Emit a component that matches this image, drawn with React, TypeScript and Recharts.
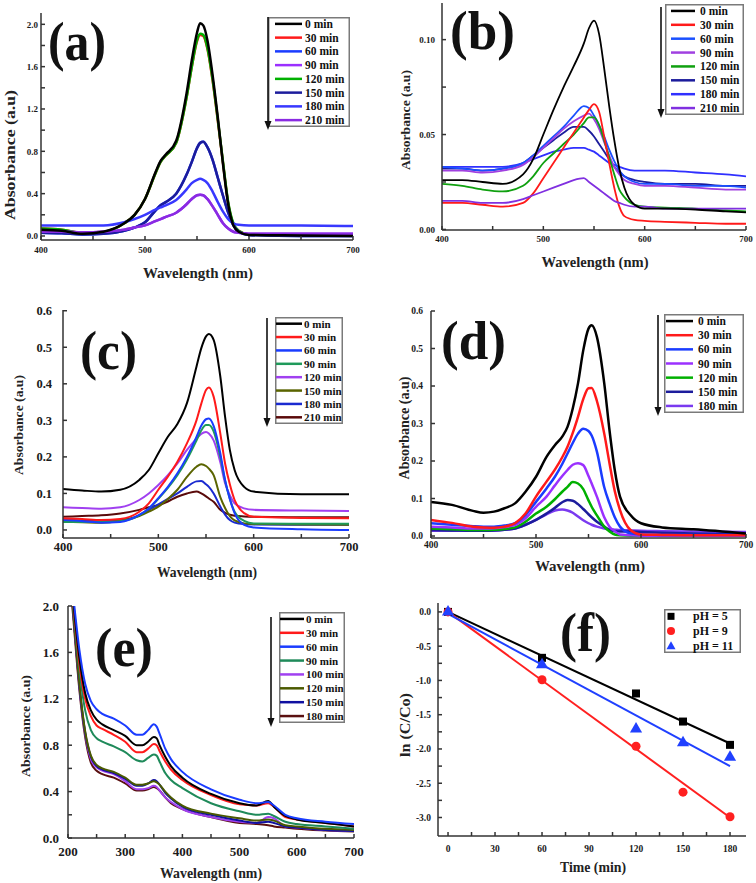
import React from 'react';
import { LineChart, Line, XAxis, YAxis, Legend, ComposedChart, Scatter, ZAxis } from 'recharts';

const SERIF = '"Liberation Serif", "Times New Roman", serif';

// ---------------- Panel (a) ----------------
const waveA = [400, 420, 440, 460, 480, 490, 500, 510, 515, 520, 530, 540, 545, 550, 553, 556, 560, 565, 570, 575, 580, 585, 590, 600, 650, 700];
const a0 = [0.06, 0.05, 0.02, 0.04, 0.12, 0.2, 0.35, 0.6, 0.71, 0.77, 0.9, 1.35, 1.66, 1.92, 2.01, 1.99, 1.85, 1.52, 1.12, 0.68, 0.3, 0.1, 0.04, 0.01, 0.005, 0.0];
const a30 = [0.07, 0.06, 0.03, 0.04, 0.12, 0.2, 0.35, 0.59, 0.7, 0.76, 0.88, 1.31, 1.6, 1.84, 1.9, 1.89, 1.77, 1.47, 1.09, 0.69, 0.31, 0.11, 0.05, 0.015, 0.01, 0.005];
const a60 = [0.03, 0.025, 0.015, 0.02, 0.05, 0.08, 0.13, 0.24, 0.29, 0.32, 0.4, 0.58, 0.7, 0.83, 0.88, 0.89, 0.84, 0.72, 0.55, 0.38, 0.22, 0.1, 0.04, 0.01, 0.0, 0.0];
const a90 = [0.04, 0.04, 0.035, 0.04, 0.06, 0.08, 0.1, 0.14, 0.16, 0.18, 0.22, 0.3, 0.35, 0.385, 0.39, 0.385, 0.35, 0.28, 0.2, 0.12, 0.07, 0.04, 0.03, 0.02, 0.02, 0.02];
const a120 = [0.07, 0.06, 0.03, 0.04, 0.12, 0.2, 0.35, 0.59, 0.7, 0.76, 0.88, 1.31, 1.6, 1.85, 1.91, 1.9, 1.78, 1.48, 1.1, 0.7, 0.32, 0.12, 0.05, 0.015, 0.01, 0.005];
const a150 = [0.03, 0.025, 0.015, 0.02, 0.05, 0.08, 0.13, 0.24, 0.29, 0.32, 0.4, 0.58, 0.7, 0.83, 0.88, 0.89, 0.84, 0.72, 0.55, 0.38, 0.22, 0.1, 0.04, 0.01, 0.0, 0.0];
const a180 = [0.1, 0.1, 0.1, 0.1, 0.13, 0.16, 0.2, 0.25, 0.27, 0.29, 0.34, 0.44, 0.5, 0.53, 0.54, 0.53, 0.5, 0.42, 0.32, 0.23, 0.16, 0.12, 0.105, 0.1, 0.1, 0.095];
const a210 = [0.04, 0.04, 0.035, 0.04, 0.06, 0.08, 0.1, 0.14, 0.16, 0.18, 0.22, 0.3, 0.35, 0.385, 0.39, 0.385, 0.35, 0.28, 0.2, 0.12, 0.07, 0.04, 0.03, 0.02, 0.02, 0.02];

// ---------------- Panel (b) ----------------
const waveB = [400, 420, 440, 460, 480, 490, 500, 510, 520, 530, 540, 545, 550, 555, 560, 565, 570, 575, 580, 590, 600, 620, 650, 680, 700];
const b0 = [0.026, 0.026, 0.025, 0.024, 0.029, 0.037, 0.05, 0.063, 0.075, 0.086, 0.098, 0.106, 0.11, 0.103, 0.085, 0.065, 0.047, 0.032, 0.022, 0.013, 0.011, 0.011, 0.0105, 0.0095, 0.009];
const b30 = [0.014, 0.014, 0.013, 0.012, 0.014, 0.019, 0.027, 0.035, 0.043, 0.051, 0.059, 0.063, 0.066, 0.062, 0.049, 0.035, 0.022, 0.012, 0.007, 0.005, 0.0045, 0.004, 0.0035, 0.003, 0.003];
const b60 = [0.033, 0.032, 0.031, 0.032, 0.035, 0.039, 0.044, 0.049, 0.054, 0.06, 0.065, 0.064, 0.06, 0.055, 0.049, 0.042, 0.036, 0.031, 0.028, 0.025, 0.024, 0.024, 0.023, 0.023, 0.022];
const b90 = [0.031, 0.031, 0.03, 0.031, 0.034, 0.038, 0.043, 0.048, 0.053, 0.057, 0.06, 0.061, 0.058, 0.053, 0.046, 0.039, 0.033, 0.029, 0.026, 0.024, 0.023, 0.023, 0.022, 0.021, 0.021];
const b120 = [0.024, 0.023, 0.021, 0.02, 0.023, 0.028, 0.035, 0.04, 0.045, 0.05, 0.056, 0.059, 0.059, 0.055, 0.047, 0.038, 0.029, 0.021, 0.017, 0.013, 0.012, 0.0115, 0.011, 0.01, 0.0095];
const b150 = [0.032, 0.032, 0.031, 0.032, 0.035, 0.039, 0.043, 0.047, 0.051, 0.054, 0.054, 0.052, 0.049, 0.045, 0.041, 0.037, 0.033, 0.03, 0.028, 0.026, 0.025, 0.024, 0.024, 0.023, 0.023];
const b180 = [0.033, 0.033, 0.033, 0.033, 0.035, 0.037, 0.039, 0.041, 0.042, 0.043, 0.043, 0.042, 0.041, 0.039, 0.037, 0.035, 0.034, 0.033, 0.032, 0.031, 0.031, 0.031, 0.03, 0.029, 0.028];
const b210 = [0.015, 0.015, 0.014, 0.014, 0.016, 0.018, 0.02, 0.022, 0.024, 0.026, 0.027, 0.025, 0.023, 0.021, 0.019, 0.017, 0.015, 0.014, 0.013, 0.012, 0.012, 0.011, 0.011, 0.011, 0.011];

// ---------------- Panel (c) ----------------
const waveC = [400, 420, 440, 460, 480, 490, 500, 510, 520, 530, 540, 545, 550, 553, 558, 565, 570, 575, 580, 590, 600, 650, 700];
const c0 = [0.112, 0.108, 0.105, 0.11, 0.137, 0.164, 0.21, 0.255, 0.29, 0.347, 0.447, 0.497, 0.53, 0.536, 0.52, 0.42, 0.31, 0.219, 0.164, 0.118, 0.105, 0.098, 0.098];
const c30 = [0.032, 0.03, 0.027, 0.03, 0.05, 0.073, 0.11, 0.146, 0.187, 0.237, 0.3, 0.345, 0.383, 0.39, 0.365, 0.264, 0.182, 0.125, 0.082, 0.046, 0.036, 0.033, 0.032];
const c60 = [0.027, 0.024, 0.02, 0.022, 0.041, 0.059, 0.087, 0.118, 0.155, 0.2, 0.255, 0.285, 0.303, 0.305, 0.285, 0.21, 0.137, 0.085, 0.046, 0.014, 0.007, 0.002, 0.0];
const c90 = [0.022, 0.022, 0.022, 0.024, 0.04, 0.058, 0.085, 0.115, 0.15, 0.193, 0.245, 0.272, 0.287, 0.287, 0.27, 0.2, 0.135, 0.085, 0.05, 0.025, 0.018, 0.017, 0.017];
const c120 = [0.062, 0.06, 0.058, 0.062, 0.082, 0.1, 0.123, 0.15, 0.182, 0.219, 0.25, 0.263, 0.268, 0.264, 0.245, 0.185, 0.128, 0.095, 0.073, 0.059, 0.055, 0.053, 0.052];
const c150 = [0.022, 0.021, 0.02, 0.025, 0.038, 0.05, 0.064, 0.085, 0.11, 0.145, 0.173, 0.18, 0.175, 0.168, 0.15, 0.09, 0.06, 0.038, 0.026, 0.018, 0.016, 0.015, 0.014];
const c180 = [0.028, 0.026, 0.024, 0.027, 0.04, 0.055, 0.07, 0.085, 0.1, 0.118, 0.133, 0.134, 0.125, 0.118, 0.1, 0.064, 0.042, 0.027, 0.02, 0.016, 0.015, 0.014, 0.014];
const c210 = [0.036, 0.038, 0.04, 0.045, 0.055, 0.062, 0.068, 0.078, 0.091, 0.1, 0.105, 0.1, 0.092, 0.086, 0.077, 0.055, 0.047, 0.042, 0.039, 0.037, 0.036, 0.035, 0.035];

// ---------------- Panel (d) ----------------
const waveD = [400, 420, 440, 450, 460, 470, 480, 490, 500, 510, 518, 525, 530, 535, 540, 545, 550, 553, 558, 565, 570, 575, 580, 590, 600, 620, 650, 700];
const d0 = [0.091, 0.083, 0.067, 0.062, 0.065, 0.074, 0.087, 0.118, 0.158, 0.211, 0.242, 0.265, 0.291, 0.34, 0.407, 0.495, 0.553, 0.562, 0.531, 0.407, 0.282, 0.176, 0.105, 0.056, 0.034, 0.023, 0.018, 0.007];
const d30 = [0.043, 0.035, 0.025, 0.023, 0.022, 0.025, 0.034, 0.06, 0.105, 0.145, 0.177, 0.21, 0.238, 0.275, 0.318, 0.365, 0.394, 0.395, 0.36, 0.273, 0.194, 0.12, 0.069, 0.016, 0.004, 0.003, 0.002, 0.002];
const d60 = [0.034, 0.03, 0.026, 0.025, 0.025, 0.028, 0.034, 0.056, 0.091, 0.127, 0.158, 0.192, 0.22, 0.248, 0.273, 0.286, 0.28, 0.268, 0.225, 0.13, 0.087, 0.05, 0.025, 0.007, 0.004, 0.003, 0.003, 0.003];
const d90 = [0.025, 0.023, 0.02, 0.02, 0.021, 0.024, 0.029, 0.047, 0.078, 0.105, 0.135, 0.16, 0.176, 0.19, 0.194, 0.189, 0.16, 0.14, 0.105, 0.05, 0.025, 0.013, 0.004, 0.002, 0.001, 0.001, 0.001, 0.001];
const d120 = [0.02, 0.018, 0.016, 0.016, 0.017, 0.019, 0.023, 0.038, 0.06, 0.078, 0.098, 0.118, 0.131, 0.144, 0.14, 0.125, 0.095, 0.078, 0.055, 0.025, 0.012, 0.004, 0.002, 0.001, 0.001, 0.001, 0.001, 0.001];
const d150 = [0.016, 0.015, 0.014, 0.014, 0.015, 0.017, 0.02, 0.03, 0.043, 0.06, 0.075, 0.09, 0.096, 0.094, 0.085, 0.072, 0.058, 0.05, 0.038, 0.025, 0.016, 0.013, 0.012, 0.012, 0.011, 0.009, 0.007, 0.005];
const d180 = [0.014, 0.014, 0.014, 0.014, 0.015, 0.017, 0.02, 0.03, 0.043, 0.058, 0.068, 0.071, 0.068, 0.062, 0.052, 0.042, 0.034, 0.03, 0.025, 0.02, 0.018, 0.017, 0.016, 0.015, 0.014, 0.013, 0.012, 0.011];

// ---------------- Panel (e) ----------------
const waveE = [200, 210, 220, 230, 240, 250, 260, 280, 300, 320, 330, 340, 350, 355, 360, 370, 380, 400, 450, 500, 530, 550, 560, 580, 600, 650, 700];
const e0 = [2.5, 2.0, 1.55, 1.25, 1.1, 1.02, 0.98, 0.93, 0.88, 0.8, 0.8, 0.83, 0.87, 0.86, 0.8, 0.7, 0.62, 0.52, 0.38, 0.3, 0.28, 0.32, 0.27, 0.19, 0.16, 0.13, 0.1];
const e30 = [2.5, 1.98, 1.5, 1.2, 1.05, 0.97, 0.94, 0.89, 0.83, 0.74, 0.74, 0.77, 0.81, 0.8, 0.75, 0.66, 0.59, 0.5, 0.37, 0.29, 0.28, 0.3, 0.27, 0.18, 0.16, 0.13, 0.1];
const e60 = [2.55, 2.05, 1.62, 1.33, 1.18, 1.11, 1.07, 1.03, 0.97, 0.89, 0.89, 0.93, 0.98, 0.96, 0.9, 0.77, 0.68, 0.57, 0.42, 0.33, 0.3, 0.31, 0.28, 0.2, 0.17, 0.14, 0.12];
const e90 = [2.5, 1.95, 1.45, 1.1, 0.93, 0.86, 0.83, 0.79, 0.74, 0.67, 0.66, 0.69, 0.72, 0.71, 0.66, 0.56, 0.5, 0.43, 0.3, 0.23, 0.2, 0.21, 0.19, 0.14, 0.12, 0.1, 0.08];
const e100 = [2.5, 1.9, 1.3, 0.9, 0.68, 0.61, 0.58, 0.55, 0.49, 0.42, 0.42, 0.43, 0.45, 0.44, 0.41, 0.35, 0.31, 0.25, 0.18, 0.14, 0.13, 0.18, 0.17, 0.1, 0.09, 0.07, 0.06];
const e120 = [2.5, 1.9, 1.32, 0.92, 0.71, 0.63, 0.6, 0.57, 0.52, 0.46, 0.46, 0.47, 0.49, 0.48, 0.46, 0.4, 0.35, 0.28, 0.21, 0.17, 0.15, 0.16, 0.15, 0.11, 0.1, 0.08, 0.07];
const e150 = [2.5, 1.9, 1.31, 0.91, 0.7, 0.62, 0.59, 0.56, 0.51, 0.45, 0.45, 0.47, 0.5, 0.49, 0.46, 0.39, 0.34, 0.27, 0.2, 0.15, 0.13, 0.14, 0.13, 0.1, 0.09, 0.07, 0.06];
const e180 = [2.45, 1.85, 1.27, 0.87, 0.65, 0.58, 0.55, 0.52, 0.47, 0.41, 0.41, 0.42, 0.44, 0.43, 0.41, 0.35, 0.3, 0.25, 0.18, 0.13, 0.12, 0.11, 0.1, 0.09, 0.08, 0.065, 0.055];

// ---------------- Panel (f) ----------------
const fTime = [0, 60, 120, 150, 180];
const fPH5 = [0, -0.67, -1.19, -1.6, -1.94];
const fPH9 = [0, -0.99, -1.96, -2.63, -2.99];
const fPH11 = [0, -0.77, -1.71, -1.91, -2.12];
const fitTime = [0, 180];
const fit5 = [0, -1.92];
const fit9 = [0, -3.0];
const fit11 = [-0.03, -2.25];

const labels8 = ['0 min', '30 min', '60 min', '90 min', '120 min', '150 min', '180 min', '210 min'];
const labelsD = ['0 min', '30 min', '60 min', '90 min', '120 min', '150 min', '180 min'];
const labelsE = ['0 min', '30 min', '60 min', '90 min', '100 min', '120 min', '150 min', '180 min'];

type S = { name: string; color: string; values: number[] };
type LegendSpec = { x: number; y: number; w: number; h: number; font: number; lineX: number; lineW: number; textX: number };

const axisStyle = { stroke: '#333', strokeWidth: 1.5 };

function LegendBox({ spec, items }: { spec: LegendSpec; items: { name: string; color: string }[] }) {
  const rh = spec.h / items.length;
  return (
    <svg width={spec.w} height={spec.h} style={{ display: 'block' }}>
      <rect x={0.75} y={0.75} width={spec.w - 1.5} height={spec.h - 1.5} fill="#fff" stroke="#7a7a7a" strokeWidth={1.5} />
      {items.map((it, i) => {
        const cy = rh * (i + 0.5);
        return (
          <g key={i}>
            <line x1={spec.lineX - spec.x} x2={spec.lineX - spec.x + spec.lineW} y1={cy} y2={cy} stroke={it.color} strokeWidth={2.5} />
            <text x={spec.textX - spec.x} y={cy} dominantBaseline="central" fontFamily={SERIF} fontWeight="bold" fontSize={spec.font} fill="#111">{it.name}</text>
          </g>
        );
      })}
    </svg>
  );
}

type PanelProps = {
  px: number; py: number; pw: number; ph: number; yw: number;
  waves: number[]; series: S[]; draw: number[];
  xDomain: [number, number]; xTicks: number[]; xMajor: number[];
  yDomain: [number, number]; yTicks: number[]; yMajor: number[]; yDec: number;
  tickFont: number; xGap: number; yGap: number; strokeW: number;
  legend: LegendSpec;
};

const TOP = 6, RIGHT = 14, XH = 40;

function SpecPanel(p: PanelProps) {
  const rows = p.waves.map((w, i) => {
    const r: Record<string, number> = { w };
    p.series.forEach((s, j) => { r['s' + j] = s.values[i]; });
    return r;
  });
  const cl = p.px - p.yw, ct = p.py - TOP;
  const tickStyle = { fill: '#1a1a1a', fontSize: p.tickFont, fontFamily: SERIF, fontWeight: 700 };
  return (
    <div style={{ position: 'absolute', left: cl, top: ct }}>
      <LineChart width={p.yw + p.pw + RIGHT} height={TOP + p.ph + XH} data={rows} margin={{ top: TOP, right: RIGHT, left: 0, bottom: 0 }}>
        <XAxis dataKey="w" type="number" domain={p.xDomain} ticks={p.xTicks} interval={0} allowDataOverflow height={XH}
          tickSize={-4} tickMargin={p.xGap + 4} tick={tickStyle} axisLine={axisStyle} tickLine={axisStyle}
          tickFormatter={(v: number) => (p.xMajor.includes(v) ? String(v) : '')} />
        <XAxis xAxisId="top" orientation="top" type="number" dataKey="w" domain={p.xDomain} allowDataOverflow height={0} tick={false} tickLine={false} axisLine={axisStyle} />
        <YAxis type="number" domain={p.yDomain} ticks={p.yTicks} interval={0} allowDataOverflow width={p.yw}
          tickSize={-4} tickMargin={p.yGap + 4} tick={tickStyle} axisLine={axisStyle} tickLine={axisStyle}
          tickFormatter={(v: number) => (p.yMajor.includes(v) ? Number(v).toFixed(p.yDec) : '')} />
        <YAxis yAxisId="right" orientation="right" type="number" domain={p.yDomain} allowDataOverflow width={0} tick={false} tickLine={false} axisLine={axisStyle} />
        {p.draw.map((j) => (
          <Line key={j} dataKey={'s' + j} name={p.series[j].name} stroke={p.series[j].color} strokeWidth={p.strokeW} dot={false} type="monotone" isAnimationActive={false} />
        ))}
        <Legend layout="vertical" align="center" verticalAlign="middle"
          wrapperStyle={{ left: p.legend.x - cl, top: p.legend.y - ct, width: p.legend.w, height: p.legend.h }}
          content={() => <LegendBox spec={p.legend} items={p.series} />} />
      </LineChart>
    </div>
  );
}

function mk(names: string[], colors: string[], vals: number[][]): S[] {
  return names.map((n, i) => ({ name: n, color: colors[i], values: vals[i] }));
}

const seriesA = mk(labels8, ['#000000', '#ff1a1a', '#1a3cff', '#9b30ff', '#00b000', '#1c1c9c', '#3838ff', '#8a2be2'], [a0, a30, a60, a90, a120, a150, a180, a210]);
const seriesB = mk(labels8, ['#000000', '#ff1a1a', '#1a50ff', '#a040e0', '#10a010', '#1c1c9c', '#3030ff', '#8030e0'], [b0, b30, b60, b90, b120, b150, b180, b210]);
const seriesC = mk(labels8, ['#000000', '#ff1a1a', '#1a3cff', '#1f9a5a', '#a040f0', '#5a6400', '#1a2ad0', '#5a0a0a'], [c0, c30, c60, c90, c120, c150, c180, c210]);
const seriesD = mk(labelsD, ['#000000', '#ff1a1a', '#1a3cff', '#9b30ff', '#00b000', '#1c1c9c', '#7a3af0'], [d0, d30, d60, d90, d120, d150, d180]);
const seriesE = mk(labelsE, ['#000000', '#ff1a1a', '#1a3cff', '#1f8a5a', '#a040f0', '#4b5a00', '#1010a0', '#5a1010'], [e0, e30, e60, e90, e100, e120, e150, e180]);

function PanelF() {
  const px = 438, py = 603, pw = 308, ph = 233, yw = 60, rp = 8;
  const cl = px - yw, ct = py - TOP;
  const pts = (vals: number[]) => fTime.map((t, i) => ({ t, v: vals[i] }));
  const fit = (vals: number[]) => fitTime.map((t, i) => ({ t, v: vals[i] }));
  const tickStyle = { fill: '#1a1a1a', fontSize: 9.5, fontFamily: SERIF, fontWeight: 700 };
  const xt = [0, 15, 30, 45, 60, 75, 90, 105, 120, 135, 150, 165, 180];
  const xm = [0, 30, 60, 90, 120, 150, 180];
  const yt = [0, -0.25, -0.5, -0.75, -1, -1.25, -1.5, -1.75, -2, -2.25, -2.5, -2.75, -3];
  const ym = [0, -0.5, -1, -1.5, -2, -2.5, -3];
  const leg = { x: 664, y: 609, w: 77, h: 44 };
  const items = [
    { name: 'pH = 5', color: '#000000', shape: 'square' },
    { name: 'pH = 9', color: '#ff2020', shape: 'circle' },
    { name: 'pH = 11', color: '#2040ff', shape: 'triangle' },
  ];
  return (
    <div style={{ position: 'absolute', left: cl, top: ct }}>
      <ComposedChart width={yw + pw + rp} height={TOP + ph + XH} margin={{ top: TOP, right: rp, left: 0, bottom: 0 }}>
        <XAxis dataKey="t" type="number" domain={[-6.4, 190.2]} ticks={xt} interval={0} allowDataOverflow height={XH}
          tickSize={-4} tickMargin={13} tick={tickStyle} axisLine={axisStyle} tickLine={axisStyle}
          tickFormatter={(v: number) => (xm.includes(v) ? String(v) : '')} />
        <XAxis xAxisId="top" orientation="top" type="number" dataKey="t" domain={[-6.4, 190.2]} allowDataOverflow height={0} tick={false} tickLine={false} axisLine={axisStyle} />
        <YAxis type="number" domain={[-3.27, 0.13]} ticks={yt} interval={0} allowDataOverflow width={yw}
          tickSize={-4} tickMargin={11} tick={tickStyle} axisLine={axisStyle} tickLine={axisStyle}
          tickFormatter={(v: number) => (ym.includes(v) ? Number(v).toFixed(1) : '')} />
        <YAxis yAxisId="right" orientation="right" type="number" domain={[-3.27, 0.13]} allowDataOverflow width={0} tick={false} tickLine={false} axisLine={axisStyle} />
        <ZAxis range={[64, 64]} />
        <Line data={fit(fit5)} dataKey="v" stroke="#000000" strokeWidth={2} dot={false} type="linear" isAnimationActive={false} />
        <Line data={fit(fit9)} dataKey="v" stroke="#ff2020" strokeWidth={2} dot={false} type="linear" isAnimationActive={false} />
        <Line data={fit(fit11)} dataKey="v" stroke="#2040ff" strokeWidth={2} dot={false} type="linear" isAnimationActive={false} />
        <Scatter name="pH = 5" data={pts(fPH5)} dataKey="v" fill="#000000" shape="square" isAnimationActive={false} />
        <Scatter name="pH = 9" data={pts(fPH9)} dataKey="v" fill="#ff2020" shape="circle" isAnimationActive={false} />
        <Scatter name="pH = 11" data={pts(fPH11)} dataKey="v" fill="#2040ff" shape="triangle" isAnimationActive={false} />
        <Legend layout="vertical" align="center" verticalAlign="middle"
          wrapperStyle={{ left: leg.x - cl, top: leg.y - ct, width: leg.w, height: leg.h }}
          content={() => (
            <svg width={leg.w} height={leg.h} style={{ display: 'block' }}>
              <rect x={0.75} y={0.75} width={leg.w - 1.5} height={leg.h - 1.5} fill="#fff" stroke="#7a7a7a" strokeWidth={1.5} />
              {items.map((it, i) => {
                const cy = (leg.h / 3) * (i + 0.5);
                const mx = 671 - leg.x;
                return (
                  <g key={i}>
                    {it.shape === 'square' && <rect x={mx - 3.5} y={cy - 3.5} width={7} height={7} fill={it.color} />}
                    {it.shape === 'circle' && <circle cx={mx} cy={cy} r={4} fill={it.color} />}
                    {it.shape === 'triangle' && <polygon points={`${mx - 4.5},${cy + 3.5} ${mx + 4.5},${cy + 3.5} ${mx},${cy - 4.5}`} fill={it.color} />}
                    <text x={693 - leg.x} y={cy} dominantBaseline="central" fontFamily={SERIF} fontWeight="bold" fontSize={12} fill="#111">{it.name}</text>
                  </g>
                );
              })}
            </svg>
          )} />
      </ComposedChart>
    </div>
  );
}

const panelLabels = [
  { t: '(a)', x: 48, y: 60, len: 58 },
  { t: '(b)', x: 450, y: 49, len: 65 },
  { t: '(c)', x: 80, y: 369, len: 57 },
  { t: '(d)', x: 441, y: 359, len: 65 },
  { t: '(e)', x: 95, y: 666, len: 58 },
  { t: '(f)', x: 560, y: 651, len: 51 },
];
const yTitles = [
  { t: 'Absorbance (a.u)', x: 10, y: 155, len: 130, fs: 14 },
  { t: 'Absorbance (a.u)', x: 405, y: 120, len: 100, fs: 13.5 },
  { t: 'Absorbance (a.u)', x: 18, y: 425, len: 100, fs: 13 },
  { t: 'Absorbance (a.u)', x: 404, y: 428, len: 103, fs: 14 },
  { t: 'Absorbance (a.u)', x: 25, y: 726, len: 102, fs: 13 },
  { t: 'ln (C/Co)', x: 405, y: 725, len: 64, fs: 15 },
];
const xTitles = [
  { t: 'Wavelength (nm)', x: 198, y: 278, len: 110, fs: 15 },
  { t: 'Wavelength (nm)', x: 595, y: 267, len: 107, fs: 15 },
  { t: 'Wavelength (nm)', x: 207, y: 577, len: 100, fs: 14 },
  { t: 'Wavelength (nm)', x: 590, y: 571, len: 110, fs: 15 },
  { t: 'Wavelength (nm)', x: 211, y: 878, len: 102, fs: 14 },
  { t: 'Time (min)', x: 593, y: 872, len: 66, fs: 14 },
];
const arrows = [
  { x: 268, y1: 17, y2: 130 },
  { x: 661, y1: 7, y2: 118 },
  { x: 267, y1: 318, y2: 427 },
  { x: 658, y1: 315, y2: 416 },
  { x: 271, y1: 617, y2: 727 },
];

export default function App() {
  return (
    <div style={{ position: 'absolute', left: 0, top: 0, width: 756, height: 883, background: '#fff', overflow: 'hidden' }}>
      <SpecPanel px={41} py={13} pw={312} ph={227} yw={41} waves={waveA} series={seriesA} draw={[1, 4, 2, 5, 3, 7, 6, 0]}
        xDomain={[400, 700]} xTicks={[400, 450, 500, 550, 600, 650, 700]} xMajor={[400, 500, 600, 700]}
        yDomain={[-0.038, 2.107]} yTicks={[0, 0.2, 0.4, 0.6, 0.8, 1.0, 1.2, 1.4, 1.6, 1.8, 2.0]} yMajor={[0, 0.4, 0.8, 1.2, 1.6, 2.0]} yDec={1}
        tickFont={9} xGap={7} yGap={3} strokeW={2.5}
        legend={{ x: 268, y: 17, w: 82, h: 110, font: 11.5, lineX: 275, lineW: 27, textX: 305 }} />
      <SpecPanel px={442} py={3} pw={304} ph={227} yw={64} waves={waveB} series={seriesB} draw={[5, 6, 2, 3, 4, 1, 7, 0]}
        xDomain={[400, 700]} xTicks={[400, 450, 500, 550, 600, 650, 700]} xMajor={[400, 500, 600, 700]}
        yDomain={[-0.0003, 0.1193]} yTicks={[0, 0.025, 0.05, 0.075, 0.1]} yMajor={[0, 0.05, 0.1]} yDec={2}
        tickFont={9} xGap={6} yGap={7} strokeW={1.8}
        legend={{ x: 665, y: 4, w: 79, h: 111, font: 11.5, lineX: 671, lineW: 24, textX: 700 }} />
      <SpecPanel px={63} py={310} pw={286} ph={228} yw={63} waves={waveC} series={seriesC} draw={[7, 6, 5, 4, 3, 2, 1, 0]}
        xDomain={[400, 700]} xTicks={[400, 450, 500, 550, 600, 650, 700]} xMajor={[400, 500, 600, 700]}
        yDomain={[-0.022, 0.602]} yTicks={[0, 0.1, 0.2, 0.3, 0.4, 0.5, 0.6]} yMajor={[0, 0.1, 0.2, 0.3, 0.4, 0.5, 0.6]} yDec={1}
        tickFont={12.5} xGap={4} yGap={11} strokeW={2}
        legend={{ x: 275, y: 317, w: 68, h: 107, font: 11, lineX: 276, lineW: 26, textX: 304 }} />
      <SpecPanel px={431} py={311} pw={315} ph={227} yw={53} waves={waveD} series={seriesD} draw={[6, 5, 4, 3, 2, 1, 0]}
        xDomain={[400, 700]} xTicks={[400, 450, 500, 550, 600, 650, 700]} xMajor={[400, 500, 600, 700]}
        yDomain={[-0.0053, 0.6]} yTicks={[0, 0.1, 0.2, 0.3, 0.4, 0.5, 0.6]} yMajor={[0, 0.1, 0.2, 0.3, 0.4, 0.5, 0.6]} yDec={1}
        tickFont={9.5} xGap={3} yGap={8} strokeW={2.5}
        legend={{ x: 664, y: 314, w: 80, h: 99, font: 11.5, lineX: 666, lineW: 27, textX: 698 }} />
      <SpecPanel px={68} py={606} pw={286} ph={232} yw={68} waves={waveE} series={seriesE} draw={[7, 4, 6, 5, 3, 1, 0, 2]}
        xDomain={[200, 700]} xTicks={[200, 250, 300, 350, 400, 450, 500, 550, 600, 650, 700]} xMajor={[200, 300, 400, 500, 600, 700]}
        yDomain={[0, 2]} yTicks={[0, 0.2, 0.4, 0.6, 0.8, 1.0, 1.2, 1.4, 1.6, 1.8, 2.0]} yMajor={[0, 0.4, 0.8, 1.2, 1.6, 2.0]} yDec={1}
        tickFont={13} xGap={9} yGap={9} strokeW={2}
        legend={{ x: 279, y: 612, w: 66, h: 111, font: 11, lineX: 280, lineW: 24, textX: 306 }} />
      <PanelF />
      <svg width={756} height={883} style={{ position: 'absolute', left: 0, top: 0, pointerEvents: 'none' }}>
        {panelLabels.map((l, i) => (
          <text key={'p' + i} x={l.x} y={l.y} fontFamily={SERIF} fontWeight="bold" fontSize={54} textLength={l.len} lengthAdjust="spacingAndGlyphs" fill="#111">{l.t}</text>
        ))}
        {yTitles.map((l, i) => (
          <text key={'y' + i} x={l.x} y={l.y} transform={`rotate(-90 ${l.x} ${l.y})`} textAnchor="middle" dominantBaseline="central"
            fontFamily={SERIF} fontWeight="bold" fontSize={l.fs} textLength={l.len} lengthAdjust="spacingAndGlyphs" fill="#222">{l.t}</text>
        ))}
        {xTitles.map((l, i) => (
          <text key={'x' + i} x={l.x} y={l.y} textAnchor="middle" fontFamily={SERIF} fontWeight="bold" fontSize={l.fs}
            textLength={l.len} lengthAdjust="spacingAndGlyphs" fill="#222">{l.t}</text>
        ))}
        {arrows.map((a, i) => (
          <g key={'a' + i}>
            <line x1={a.x} x2={a.x} y1={a.y1} y2={a.y2 - 8} stroke="#111" strokeWidth={1.6} />
            <polygon points={`${a.x - 3.5},${a.y2 - 9} ${a.x + 3.5},${a.y2 - 9} ${a.x},${a.y2}`} fill="#111" />
          </g>
        ))}
      </svg>
    </div>
  );
}
